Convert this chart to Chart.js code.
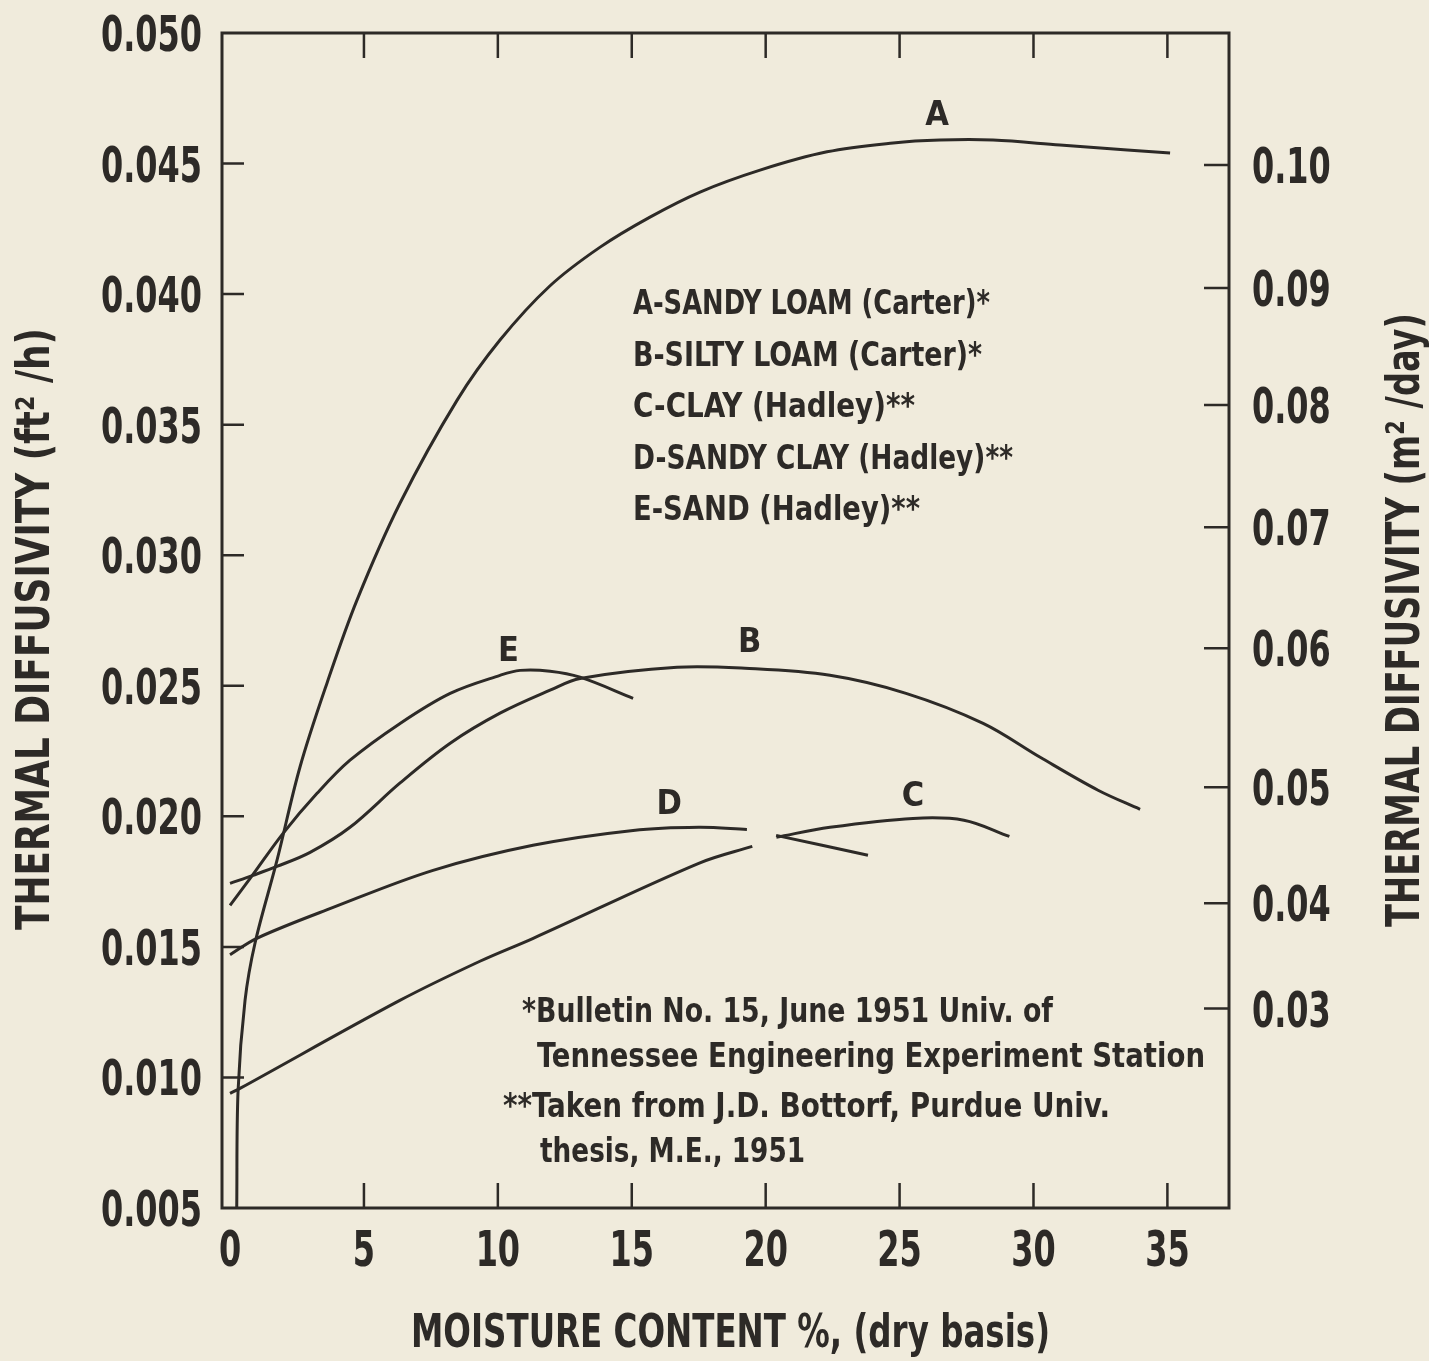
<!DOCTYPE html>
<html>
<head>
<meta charset="utf-8">
<script src="https://cdn.jsdelivr.net/npm/chart.js@4.4.1/dist/chart.umd.min.js"></script>
<style>
  html, body { margin: 0; padding: 0; background: #f0ebdc; }
  #wrap { width: 1429px; height: 1361px; position: relative; }
</style>
</head>
<body>
<div id="wrap"><canvas id="chart"></canvas></div>
<script>
const INK = "#2d2a27";
const FONT = "'Liberation Sans Narrow', 'DejaVu Sans Condensed', 'Arial Narrow', sans-serif";

// moisture content % (dry basis) and thermal diffusivity ft2/h
const moistA = [0.25, 0.3, 0.56, 0.93, 1.75, 2.61, 3.62, 4.74, 6.35, 8.48, 10.08, 11.95, 13.82, 15.68, 17.55, 19.79, 22.29, 24.76, 26.51, 28.49, 30.99, 33.5, 35.1];
const diffA  = [0.005, 0.0095, 0.01295, 0.01513, 0.0183, 0.02188, 0.0251, 0.02828, 0.0320, 0.03594, 0.03824, 0.04032, 0.0418, 0.04295, 0.04391, 0.04475, 0.04545, 0.04579, 0.0459, 0.0459, 0.04571, 0.04552, 0.0454];

const moistB = [0, 0.86, 1.75, 2.99, 4.48, 6.35, 8.22, 10.08, 11.95, 13.07, 16.69, 19.23, 22.4, 25.24, 28.12, 30.25, 32.41, 33.98];
const diffB  = [0.01743, 0.01774, 0.01808, 0.01862, 0.01958, 0.02128, 0.0228, 0.02395, 0.02483, 0.02528, 0.02571, 0.02567, 0.0254, 0.02471, 0.02356, 0.02226, 0.021, 0.02027];

const moistC = [0, 0.37, 6.34, 9.33, 11.3, 17.5, 19.5, 19.9, 20.4, 22.4, 25.5, 27.4, 29.1];
const diffC  = [0.00939, 0.00958, 0.01295, 0.01445, 0.01532, 0.0182, 0.01885, null, 0.0192, 0.01958, 0.01992, 0.01985, 0.01923];

const moistD = [0, 1.0, 3.85, 7.58, 11.31, 15.05, 17.5, 19.3, 19.9, 20.39, 23.82];
const diffD  = [0.0147, 0.01533, 0.01651, 0.01793, 0.01889, 0.01946, 0.01958, 0.0195, null, 0.01927, 0.01851];

const moistE = [0, 0.75, 1.98, 3.25, 4.48, 6.35, 8.22, 10.08, 10.83, 11.95, 13.07, 15.05];
const diffE  = [0.01659, 0.01762, 0.01935, 0.02088, 0.02215, 0.02356, 0.02471, 0.0254, 0.02559, 0.02556, 0.02533, 0.02452];

// axes
const xTicks = [0, 5, 10, 15, 20, 25, 30, 35];
const yTicks = [0.005, 0.010, 0.015, 0.020, 0.025, 0.030, 0.035, 0.040, 0.045, 0.050];
const rightLabels = ["0.10", "0.09", "0.08", "0.07", "0.06", "0.05", "0.04", "0.03"];
// where the m2/day ticks sit on the ft2/h scale in the drawing
const rightPositions = [0.04494, 0.04023, 0.03575, 0.03107, 0.02644, 0.02111, 0.01667, 0.01264];

// curve letters, in data coordinates
const curveNames = ["A", "B", "C", "D", "E"];
const nameX = [26.4, 19.4, 25.5, 16.4, 10.4];
const nameY = [0.0468, 0.02663, 0.02073, 0.02042, 0.0263];

const legendLines = [
  "A-SANDY LOAM (Carter)*",
  "B-SILTY LOAM (Carter)*",
  "C-CLAY (Hadley)**",
  "D-SANDY CLAY (Hadley)**",
  "E-SAND (Hadley)**",
];
const noteLines = [
  "*Bulletin No. 15, June 1951 Univ. of",
  "Tennessee Engineering Experiment Station",
  "**Taken from J.D. Bottorf, Purdue Univ.",
  "thesis, M.E., 1951",
];

function pairs(xs, ys) {
  return xs.map((x, i) => ({ x: x, y: ys[i] }));
}

function curve(label, xs, ys) {
  return {
    label: label,
    data: pairs(xs, ys),
    borderColor: INK,
    borderWidth: 3,
    pointRadius: 0,
    tension: 0.35,
    spanGaps: false,
    fill: false,
  };
}

// draw text squeezed/stretched to a width
function fitText(ctx, text, x, y, width, size, rot) {
  ctx.save();
  ctx.translate(x, y);
  if (rot) ctx.rotate(rot);
  ctx.font = "bold " + size + "px " + FONT;
  ctx.textAlign = "left";
  ctx.textBaseline = "alphabetic";
  const w = ctx.measureText(text).width;
  ctx.scale(width / w, 1);
  ctx.fillText(text, 0, size * 0.36);
  ctx.restore();
}

// narrow tick label, centred vertically on y
function tickText(ctx, text, x, y, align) {
  ctx.save();
  ctx.translate(x, y);
  ctx.scale(0.71, 1);
  ctx.font = "bold 50px " + FONT;
  ctx.textAlign = align;
  ctx.textBaseline = "alphabetic";
  ctx.fillText(text, 0, 18);
  ctx.restore();
}

const decorations = {
  id: "decorations",
  afterDraw(chart) {
    const { ctx, chartArea: a, scales } = chart;
    ctx.save();
    ctx.strokeStyle = INK;
    ctx.fillStyle = INK;
    ctx.lineCap = "butt";

    // frame
    ctx.lineWidth = 3;
    ctx.strokeRect(a.left, a.top, a.right - a.left, a.bottom - a.top);

    // inward tick marks
    ctx.lineWidth = 2.5;
    ctx.beginPath();
    xTicks.forEach((v) => {
      if (v === 0) return;
      const px = scales.x.getPixelForValue(v);
      ctx.moveTo(px, a.bottom); ctx.lineTo(px, a.bottom - 25);
      ctx.moveTo(px, a.top); ctx.lineTo(px, a.top + 25);
    });
    yTicks.forEach((v) => {
      if (v === 0.005 || v === 0.05) return;
      const py = scales.y.getPixelForValue(v);
      ctx.moveTo(a.left, py); ctx.lineTo(a.left + 22, py);
    });
    rightPositions.forEach((v) => {
      const py = scales.y2.getPixelForValue(v);
      ctx.moveTo(a.right, py); ctx.lineTo(a.right - 25, py);
    });
    ctx.stroke();

    // tick labels
    xTicks.forEach((v) => tickText(ctx, String(v), scales.x.getPixelForValue(v), a.bottom + 40, "center"));
    yTicks.forEach((v) => tickText(ctx, v.toFixed(3), a.left - 20, scales.y.getPixelForValue(v), "right"));
    rightPositions.forEach((v, i) => tickText(ctx, rightLabels[i], a.right + 23, scales.y2.getPixelForValue(v), "left"));

    // axis titles
    fitText(ctx, "MOISTURE CONTENT %, (dry basis)", 411, 1330, 639, 47);
    fitText(ctx, "THERMAL DIFFUSIVITY (ft\u00b2 /h)", 32, 930, 602, 46, -Math.PI / 2);
    fitText(ctx, "THERMAL DIFFUSIVITY (m\u00b2 /day)", 1402, 927, 614, 46, -Math.PI / 2);

    // curve letters
    ctx.font = "bold 34px " + FONT;
    ctx.textAlign = "center";
    ctx.textBaseline = "middle";
    curveNames.forEach((n, i) => {
      ctx.fillText(n, scales.x.getPixelForValue(nameX[i]), scales.y.getPixelForValue(nameY[i]));
    });

    // legend block
    const legendW = [357, 349, 282, 380, 287];
    legendLines.forEach((t, i) => fitText(ctx, t, 633, 302 + i * 51.5, legendW[i], 34));

    // footnotes
    const noteX = [522, 537, 503, 540];
    const noteY = [1010, 1055, 1105, 1150];
    const noteW = [531, 668, 607, 265];
    noteLines.forEach((t, i) => fitText(ctx, t, noteX[i], noteY[i], noteW[i], 33));

    ctx.restore();
  },
};

function noPad(s) {
  s.paddingTop = 0;
  s.paddingBottom = 0;
  s.paddingLeft = 0;
  s.paddingRight = 0;
}

new Chart(document.getElementById("chart"), {
  type: "line",
  data: {
    datasets: [
      curve("A", moistA, diffA),
      curve("B", moistB, diffB),
      curve("C", moistC, diffC),
      curve("D", moistD, diffD),
      curve("E", moistE, diffE),
    ],
  },
  options: {
    responsive: true,
    maintainAspectRatio: false,
    animation: false,
    layout: { padding: { top: 33, left: 0, right: 0, bottom: 0 } },
    plugins: { legend: { display: false }, tooltip: { enabled: false } },
    scales: {
      x: {
        type: "linear",
        min: -0.3,
        max: 37.3,
        afterBuildTicks: (s) => { s.ticks = xTicks.map((v) => ({ value: v })); },
        afterFit: (s) => { s.height = 153; noPad(s); },
        grid: { display: false, drawTicks: false },
        border: { display: false },
        ticks: { display: false },
      },
      y: {
        type: "linear",
        min: 0.005,
        max: 0.05,
        afterBuildTicks: (s) => { s.ticks = yTicks.map((v) => ({ value: v })); },
        afterFit: (s) => { s.width = 222; noPad(s); },
        grid: { display: false, drawTicks: false },
        border: { display: false },
        ticks: { display: false },
      },
      y2: {
        type: "linear",
        position: "right",
        min: 0.005,
        max: 0.05,
        afterBuildTicks: (s) => { s.ticks = rightPositions.map((v) => ({ value: v })); },
        afterFit: (s) => { s.width = 200; noPad(s); },
        grid: { display: false, drawTicks: false },
        border: { display: false },
        ticks: { display: false },
      },
    },
  },
  plugins: [decorations],
});
</script>
</body>
</html>
